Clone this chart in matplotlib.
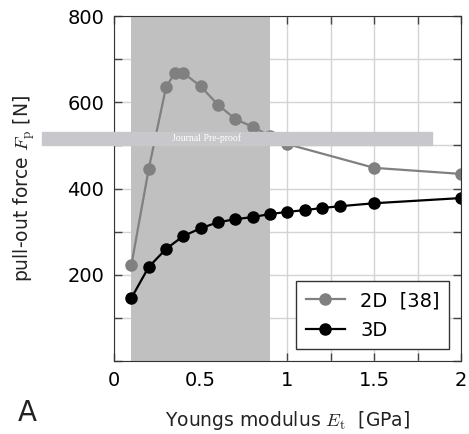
import numpy as np
import matplotlib.pyplot as plt

plt.rcParams['font.family'] = 'DejaVu Sans'
plt.rcParams['mathtext.fontset'] = 'cm'

# 2D reference data [38]
E_2d = [0.1, 0.2, 0.3, 0.35, 0.4, 0.5, 0.6, 0.7, 0.8, 0.9, 1.0, 1.5, 2.0]
F_2d = [222, 445, 635, 668, 668, 637, 594, 561, 543, 522, 503, 448, 434]

# 3D results
E_3d = [0.1, 0.2, 0.3, 0.4, 0.5, 0.6, 0.7, 0.8, 0.9, 1.0, 1.1, 1.2, 1.3, 1.5, 2.0]
F_3d = [146, 218, 260, 290, 308, 322, 329, 334, 341, 346, 350, 355, 359, 366, 378]

shade = (0.1, 0.9)

fig = plt.figure(figsize=(4.69, 4.34), dpi=100)
ax = fig.add_axes([0.243, 0.168, 0.740, 0.795])

ax.axvspan(shade[0], shade[1], color='#c0c0c0', lw=0, zorder=1)
ax.plot(E_2d, F_2d, '-o', color='#808080', lw=1.6, ms=8, label='2D  [38]', zorder=3)
ax.plot(E_3d, F_3d, '-o', color='black', lw=1.6, ms=8, label='3D', zorder=4)

ax.set_xlim(0, 2)
ax.set_ylim(0, 800)
ax.set_xticks([0, 0.5, 1, 1.5, 2])
ax.set_xticklabels(['0', '0.5', '1', '1.5', '2'])
ax.set_xticks(np.arange(0.25, 2, 0.5), minor=True)
ax.set_yticks([0, 200, 400, 600, 800])
ax.set_yticklabels(['', '200', '400', '600', '800'])
ax.set_yticks(np.arange(100, 800, 200), minor=True)
ax.grid(True, which='both', color='#d4d4d4', lw=1, zorder=0)
ax.set_axisbelow(True)
ax.tick_params(which='both', direction='in', top=True, right=True, length=6,
               width=1, labelsize=14, color='#444444', pad=7)
for s in ax.spines.values():
    s.set_color('#333333')
    s.set_zorder(5)

ax.set_xlabel(r'Youngs modulus $E_\mathrm{t}$  [GPa]', fontsize=13.5, labelpad=14, color='#222222')
ax.set_ylabel(r'pull-out force $F_\mathrm{p}$ [N]', fontsize=13.5, color='#222222')
ax.yaxis.set_label_coords(-0.222, 0.5)

leg = ax.legend(loc='lower right', fontsize=14, fancybox=False, edgecolor='#333333',
                framealpha=1, handlelength=2.0, borderaxespad=0.6, labelspacing=0.55,
                borderpad=0.5)
leg.get_frame().set_linewidth(1)

fig.text(0.038, 0.03, 'A', fontsize=20, color='#222222')

# Journal Pre-proof banner
fig.patches.append(plt.Rectangle((0.09, 0.666), 0.832, 0.031, transform=fig.transFigure,
                                 color='#c8c8cc', zorder=10))
fig.text(0.44, 0.681, 'Journal Pre-proof', fontsize=7, color='white',
         family='Liberation Serif', ha='center', va='center', zorder=11)

fig.savefig('out.png', dpi=100)
